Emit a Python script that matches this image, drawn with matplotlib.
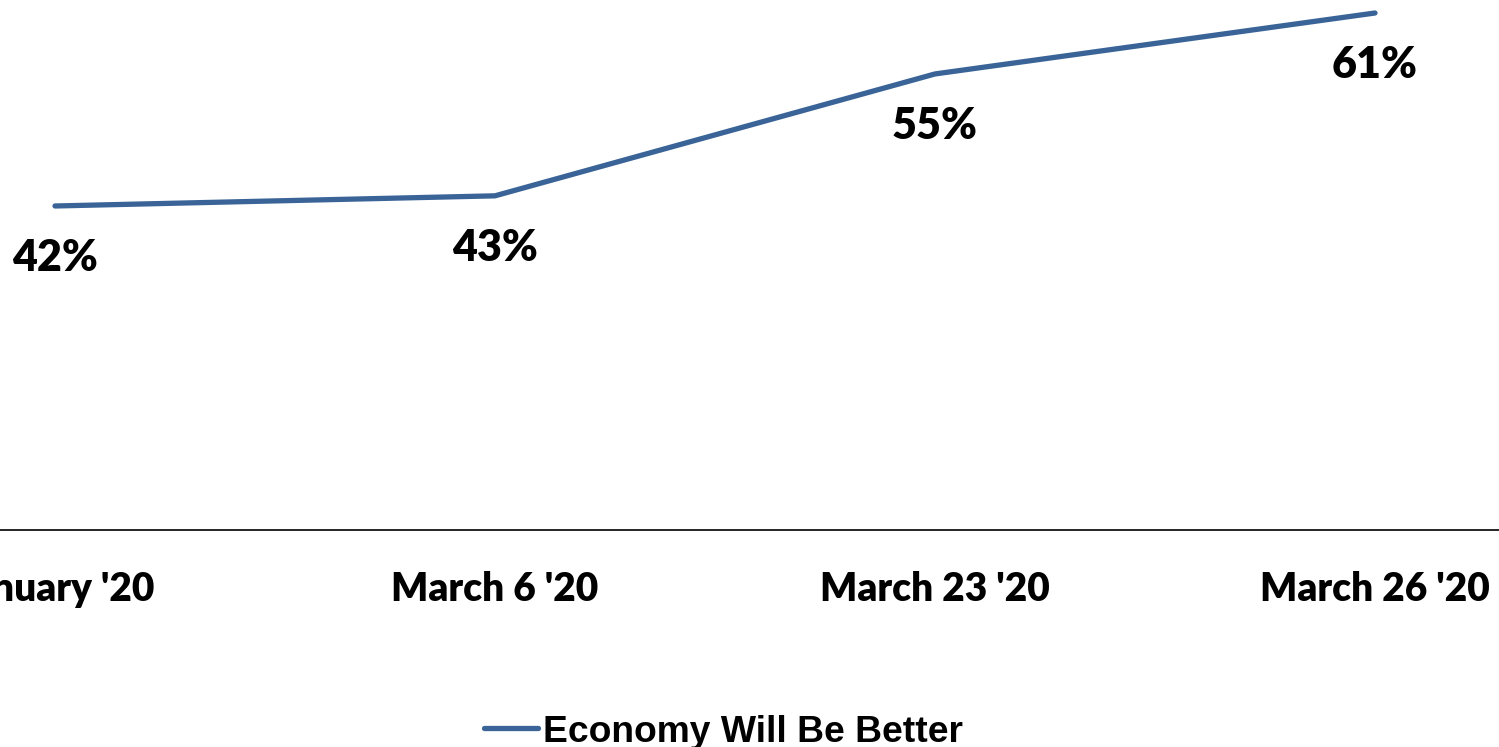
import matplotlib
matplotlib.use("Agg")
import matplotlib.pyplot as plt
from matplotlib.lines import Line2D

categories = ["January '20", "March 6 '20", "March 23 '20", "March 26 '20"]
values = [42, 43, 55, 61]
series_name = "Economy Will Be Better"
line_color = "#3A6497"

W, H = 1499, 747
fig = plt.figure(figsize=(W / 100, H / 100), dpi=100)

left_px, right_px = -165, 1595
bottom_px, top_px = 530, 0
ax = fig.add_axes([left_px / W, 1 - bottom_px / H, (right_px - left_px) / W, (bottom_px - top_px) / H])
ax.set_xlim(-0.5, len(categories) - 0.5)
ax.set_ylim(10.1, 62.28)

x = list(range(len(categories)))
ax.plot(x, values, color=line_color, lw=3.8, solid_capstyle="round", solid_joinstyle="round", clip_on=False)

label_font = "Lato"
for xi, v in zip(x, values):
    ax.annotate(f"{v}%", (xi, v), xytext=(0, -65 * 0.72), textcoords="offset points",
                ha="center", va="baseline", fontsize=31, fontweight="heavy", family=label_font)

for s in ["top", "right", "left"]:
    ax.spines[s].set_visible(False)
ax.spines["bottom"].set_color("#000000")
ax.spines["bottom"].set_linewidth(1.2)
ax.set_yticks([])
ax.set_xticks(x)
ax.set_xticklabels(categories, fontsize=28, fontweight="heavy", family=label_font, va="baseline")
ax.tick_params(axis="x", length=0, pad=71 * 0.72)
ax.patch.set_alpha(0)

handle = Line2D([], [], color=line_color, lw=3.8, solid_capstyle="round")
fig.legend([handle], [series_name], loc="center", bbox_to_anchor=(723.5 / W, 1 - 732 / H),
           frameon=False, borderpad=0, handlelength=1.45, handletextpad=0.15,
           prop={"family": "Liberation Sans", "weight": "bold", "size": 26.8})

fig.savefig("out.png", dpi=100)
